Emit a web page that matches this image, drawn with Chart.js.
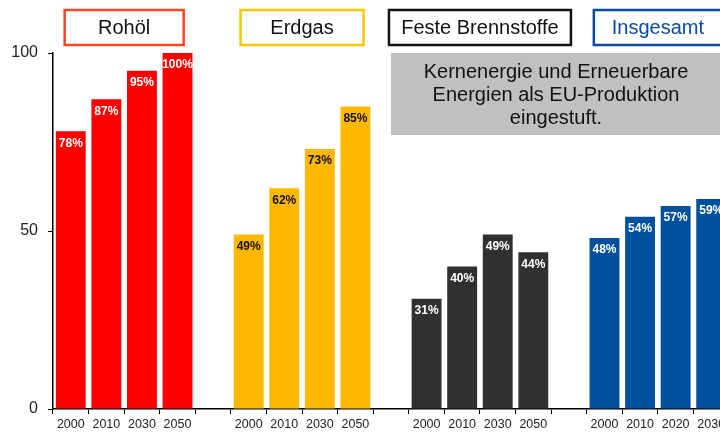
<!DOCTYPE html>
<html>
<head>
<meta charset="utf-8">
<script src="https://cdn.jsdelivr.net/npm/chart.js@4"></script>
<style>
  html, body { margin: 0; padding: 0; background: #fff; overflow: hidden; }
  #wrap { width: 740px; height: 432px; }
</style>
</head>
<body>
<div id="wrap"><canvas id="barChart"></canvas></div>
<script>
// group names and years
var groups = ['Rohöl', 'Erdgas', 'Feste Brennstoffe', 'Insgesamt'];
var years = ['2000', '2010', '2030', '2050'];
var yearsTotal = ['2000', '2010', '2020', '2030'];

// import dependency in percent
var rohoel = [78, 87, 95, 100];
var erdgas = [49, 62, 73, 85];
var feste = [31, 40, 49, 44];
var insgesamt = [48, 54, 57, 59];

var yTicks = [0, 50, 100];

var labels = years.concat([''], years, [''], years, [''], yearsTotal);

function padData(vals, start) {
    var out = [];
    for (var i = 0; i < labels.length; i++) out.push(null);
    for (var j = 0; j < vals.length; j++) out[start + j] = vals[j];
    return out;
}

var barColors = ['#ff0000', '#ffb800', '#303030', '#0050a0'];
var boxColors = ['#ff4422', '#ffc400', '#111111', '#0a4aa0'];
var textColors = ['#111', '#111', '#111', '#0a4aa0'];
var valueColors = ['#fff', '#111', '#fff', '#fff'];

var boxesPlugin = {
    id: 'boxes',
    afterDatasetsDraw: function (chart) {
        var c = chart.ctx;
        // value labels inside the bars
        chart.data.datasets.forEach(function (ds, di) {
            var meta = chart.getDatasetMeta(di);
            meta.data.forEach(function (bar, i) {
                if (ds.data[i] == null) return;
                c.save();
                c.font = 'bold 12px "Liberation Sans", Arial, sans-serif';
                c.fillStyle = valueColors[di];
                c.textAlign = 'center';
                c.textBaseline = 'middle';
                c.fillText(ds.data[i] + '%', bar.x, bar.y + 12);
                c.restore();
            });
        });
        // group title boxes
        var x = chart.scales.x;
        var widths = [119, 123, 182, 128];
        for (var g = 0; g < 4; g++) {
            var cx = (x.getPixelForValue(g * 5) + x.getPixelForValue(g * 5 + 3)) / 2;
            c.save();
            c.strokeStyle = boxColors[g];
            c.lineWidth = 2.5;
            c.fillStyle = '#fff';
            c.fillRect(cx - widths[g] / 2, 10, widths[g], 35);
            c.strokeRect(cx - widths[g] / 2, 10, widths[g], 35);
            c.font = '20px "Liberation Sans", Arial, sans-serif';
            c.fillStyle = textColors[g];
            c.textAlign = 'center';
            c.textBaseline = 'middle';
            c.fillText(groups[g], cx, 28);
            c.restore();
        }
        // note box
        c.save();
        c.fillStyle = '#c0c0c0';
        c.fillRect(391, 53, 329, 82);
        c.font = '20px "Liberation Sans", Arial, sans-serif';
        c.fillStyle = '#111';
        c.textAlign = 'center';
        c.textBaseline = 'middle';
        c.fillText('Kernenergie und Erneuerbare', 556, 72);
        c.fillText('Energien als EU-Produktion', 556, 95);
        c.fillText('eingestuft.', 556, 118);
        c.restore();
    }
};

var ctx = document.getElementById('barChart').getContext('2d');
var myChart = new Chart(ctx, {
    type: 'bar',
    data: {
        labels: labels,
        datasets: [
            { label: groups[0], data: padData(rohoel, 0), backgroundColor: barColors[0] },
            { label: groups[1], data: padData(erdgas, 5), backgroundColor: barColors[1] },
            { label: groups[2], data: padData(feste, 10), backgroundColor: barColors[2] },
            { label: groups[3], data: padData(insgesamt, 15), backgroundColor: barColors[3] }
        ]
    },
    options: {
        responsive: true,
        maintainAspectRatio: false,
        animation: false,
        layout: { padding: { top: 53, right: 11, left: 0, bottom: 0 } },
        datasets: {
            bar: { grouped: false, barPercentage: 0.84, categoryPercentage: 1, skipNull: true }
        },
        plugins: {
            legend: { display: false },
            tooltip: { enabled: false }
        },
        scales: {
            x: {
                grid: { drawOnChartArea: false, drawTicks: true, tickLength: 5, color: '#000', lineWidth: 1 },
                border: { color: '#000', width: 1.5 },
                ticks: {
                    autoSkip: false, maxRotation: 0, padding: 3, color: '#222',
                    font: { family: '"Liberation Sans", Arial, sans-serif', size: 12.5 }
                },
                afterFit: function (s) { s.height = 23; }
            },
            y: {
                min: 0, max: 100,
                afterBuildTicks: function (s) { s.ticks = yTicks.map(function (v) { return { value: v }; }); },
                grid: { drawOnChartArea: false, drawTicks: true, tickLength: 5, color: '#000' },
                border: { color: '#000', width: 1.5 },
                ticks: {
                    padding: 10, color: '#222',
                    font: { family: '"Liberation Sans", Arial, sans-serif', size: 16 }
                },
                afterFit: function (s) { s.width = 53; }
            }
        }
    },
    plugins: [boxesPlugin]
});
</script>
</body>
</html>
